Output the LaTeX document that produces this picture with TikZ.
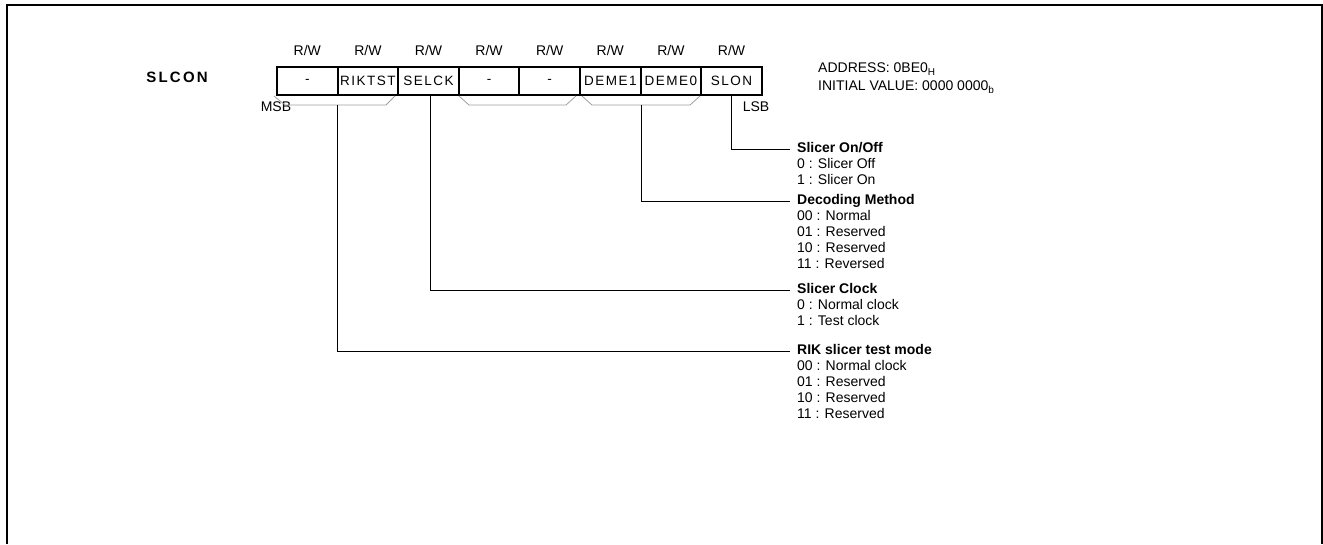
\documentclass[tikz,border=0pt]{standalone}
\usepackage{fontspec}
\setmainfont{Liberation Sans}
\newfontfamily\cellfont[LetterSpace=11]{Liberation Sans}
\newfontfamily\titlefont[LetterSpace=15]{Liberation Sans}
\newcommand{\sbs}[1]{\raisebox{-0.4ex}{\fontsize{10}{10}\selectfont #1}}
\begin{document}
\begin{tikzpicture}[x=1pt,y=-1pt,
  font=\fontsize{14}{16.1}\selectfont,
  cellbox/.style={draw, line width=2pt, minimum width=60.6pt, minimum height=28pt, inner sep=0pt, font=\cellfont\fontsize{13.5}{15}\selectfont},
  plain/.style={inner sep=0pt},
  brk/.style={draw=gray!75, line width=0.8pt},
  conn/.style={draw, line width=0.8pt},
  hdr/.style={anchor=west, inner sep=0pt, text height=10pt, text depth=3pt, font=\bfseries\fontsize{14}{16.1}\selectfont},
  item/.style={anchor=west, inner sep=0pt, text height=10pt, text depth=3pt}
]
\useasboundingbox (0,0) rectangle (1323,544);
% frame
\draw[line width=1.3pt] (7,544) -- (7,5) -- (1322,5) -- (1322,544);

% register name
\node[plain, font=\titlefont\bfseries\fontsize{15}{17}\selectfont] (name) at (177,77) {SLCON};

% cells
\foreach \i/\t in {0/-,1/RIKTST,2/SELCK,3/-,4/-,5/DEME1,6/DEME0,7/SLON}{
  \node[cellbox] (c\i) at ({277+30.3+60.6*\i},81) {\t};
  \node[plain] (rw\i) at ({277+30.3+60.6*\i},50) {R/W};
}

\node[plain] (msb) at (276,107) {MSB};
\node[plain] (lsb) at (756,107) {LSB};

\node[anchor=west, plain] (addr) at (818,69) {ADDRESS: 0BE0\sbs{H}};
\node[anchor=west, plain] (init) at (818,87) {INITIAL VALUE: 0000 0000\sbs{b}};

% brackets
\draw[brk] (274,96) -- (285,105) -- (386,105) -- (395,96);
\draw[brk] (459,96) -- (469,105) -- (566,105) -- (576,96);
\draw[brk] (582,96) -- (592,105) -- (690,105) -- (700,96);

\coordinate (b76) at (337,105);
\coordinate (b5) at (430,96);
\coordinate (b21) at (641,105);
\coordinate (b0) at (731,96);

% Slicer On/Off
\node[hdr] (h0) at (797,149) {Slicer On/Off};
\node[item] (h0a) at (797,165) {0 : Slicer Off};
\node[item] (h0b) at (797,181) {1 : Slicer On};

% Decoding Method
\node[hdr] (h1) at (797,201) {Decoding Method};
\node[item] (h1a) at (797,217) {00 : Normal};
\node[item] (h1b) at (797,233) {01 : Reserved};
\node[item] (h1c) at (797,249) {10 : Reserved};
\node[item] (h1d) at (797,265) {11 : Reversed};

% Slicer Clock
\node[hdr] (h2) at (797,290) {Slicer Clock};
\node[item] (h2a) at (797,306) {0 : Normal clock};
\node[item] (h2b) at (797,322) {1 : Test clock};

% RIK slicer test mode
\node[hdr] (h3) at (797,351) {RIK slicer test mode};
\node[item] (h3a) at (797,367) {00 : Normal clock};
\node[item] (h3b) at (797,383) {01 : Reserved};
\node[item] (h3c) at (797,399) {10 : Reserved};
\node[item] (h3d) at (797,415) {11 : Reserved};

% connectors
\draw[conn] (b0) |- ([xshift=-7pt]h0.west);
\draw[conn] (b21) |- ([xshift=-7pt]h1.west);
\draw[conn] (b5) |- ([xshift=-7pt]h2.west);
\draw[conn] (b76) |- ([xshift=-7pt]h3.west);
\end{tikzpicture}
\end{document}
